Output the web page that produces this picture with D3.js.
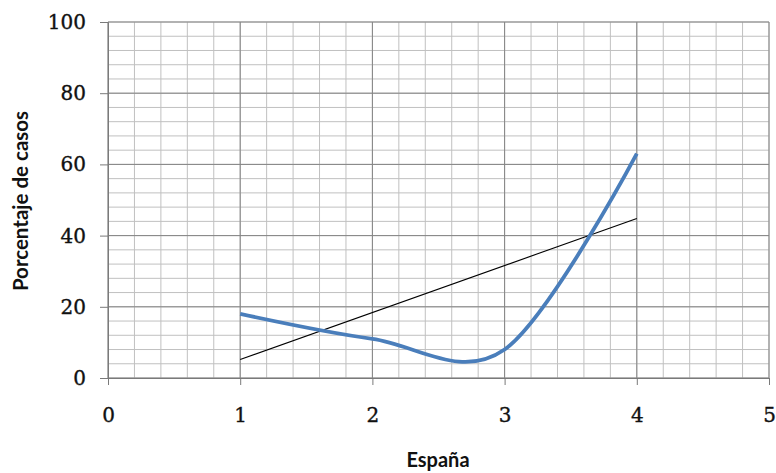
<!DOCTYPE html>
<html><head><meta charset="utf-8">
<script src="https://cdn.jsdelivr.net/npm/d3@7"></script>
<style>body{margin:0;background:#fff}</style>
</head><body>
<svg id="c" width="776" height="473"></svg>
<script>
const seriesX = [1, 2, 3, 4];
const seriesY = [18, 11, 8, 63];
const trendX = [1, 4];
const trendY = [5.2, 44.8];
const xTicks = [0, 1, 2, 3, 4, 5];
const yTicks = [0, 20, 40, 60, 80, 100];

const svg = d3.select("#c");
const m = {l: 108, r: 7, t: 22, b: 95};
const W = 776, H = 473;
const x = d3.scaleLinear().domain([0, 5]).range([m.l, W - m.r]);
const y = d3.scaleLinear().domain([0, 100]).range([H - m.b, m.t]);

const g = svg.append("g");
// minor grid
g.selectAll(".vx").data(d3.range(0, 5.001, 0.2)).join("line")
  .attr("x1", d => x(d)).attr("x2", d => x(d)).attr("y1", y(0)).attr("y2", y(100))
  .attr("stroke", "#c0c0c0").attr("stroke-width", 1);
g.selectAll(".hy").data(d3.range(0, 100.001, 4)).join("line")
  .attr("y1", d => y(d)).attr("y2", d => y(d)).attr("x1", x(0)).attr("x2", x(5))
  .attr("stroke", "#c0c0c0").attr("stroke-width", 1);
// major grid
g.selectAll(".mx").data(xTicks).join("line")
  .attr("x1", d => x(d)).attr("x2", d => x(d)).attr("y1", y(0)).attr("y2", y(100))
  .attr("stroke", "#858585").attr("stroke-width", 1);
g.selectAll(".my").data(yTicks).join("line")
  .attr("y1", d => y(d)).attr("y2", d => y(d)).attr("x1", x(0)).attr("x2", x(5))
  .attr("stroke", "#858585").attr("stroke-width", 1);

// axes
const xAxis = d3.axisBottom(x).tickValues(xTicks).tickSize(7).tickPadding(23).tickFormat(d3.format("d"));
const yAxis = d3.axisLeft(y).tickValues(yTicks).tickSize(8).tickPadding(14).tickFormat(d3.format("d"));
const ax = svg.append("g").attr("transform", `translate(0,${y(0)})`).call(xAxis);
const ay = svg.append("g").attr("transform", `translate(${x(0)},0)`).call(yAxis);
[ax, ay].forEach(a => {
  a.select(".domain").attr("stroke", "#7a7a7a");
  a.selectAll(".tick line").attr("stroke", "#7a7a7a");
  a.selectAll("text").attr("font-family", "DejaVu Serif").attr("font-size", 20)
    .attr("fill", "#111").attr("stroke", "#111").attr("stroke-width", 0.35);
});

// trend line
svg.append("path")
  .datum(trendX.map((d, i) => [d, trendY[i]]))
  .attr("d", d3.line().x(d => x(d[0])).y(d => y(d[1])))
  .attr("fill", "none").attr("stroke", "#000").attr("stroke-width", 1.1);

// series
svg.append("path")
  .datum(seriesX.map((d, i) => [d, seriesY[i]]))
  .attr("d", d3.line().x(d => x(d[0])).y(d => y(d[1])).curve(d3.curveCatmullRom.alpha(0)))
  .attr("fill", "none").attr("stroke", "#4a7ebb").attr("stroke-width", 3.8)
  .attr("stroke-linecap", "butt").attr("stroke-linejoin", "round");

// titles
svg.append("text").attr("x", 438).attr("y", 467).attr("text-anchor", "middle")
  .attr("font-family", "Lato").attr("font-weight", "bold").attr("font-size", 20)
  .attr("fill", "#111").text("España");
svg.append("text").attr("transform", "translate(28,201) rotate(-90)").attr("text-anchor", "middle")
  .attr("font-family", "Lato").attr("font-weight", "bold").attr("font-size", 20.5)
  .attr("fill", "#111").text("Porcentaje de casos");
</script>
</body></html>
